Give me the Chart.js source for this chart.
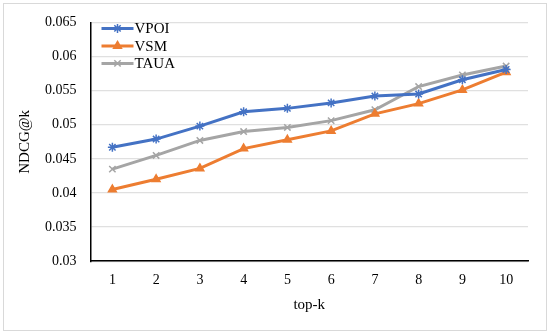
<!DOCTYPE html>
<html>
<head>
<meta charset="utf-8">
<script src="https://cdn.jsdelivr.net/npm/chart.js@4.4.1/dist/chart.umd.min.js"></script>
<style>
  html, body { margin: 0; padding: 0; background: #fff; }
  #wrap { width: 550px; height: 334px; }
</style>
</head>
<body>
<div id="wrap"><canvas id="ndcgChart"></canvas></div>
<script>
// dados
const topK = ['1', '2', '3', '4', '5', '6', '7', '8', '9', '10'];
const vpoi = [0.0467, 0.0479, 0.0498, 0.0519, 0.0524, 0.0532, 0.0542, 0.0545, 0.0566, 0.0581];
const vsm  = [0.0405, 0.0420, 0.0436, 0.0465, 0.0478, 0.0491, 0.0516, 0.0531, 0.0551, 0.0577];
const taua = [0.0435, 0.0455, 0.0477, 0.0490, 0.0496, 0.0506, 0.0522, 0.0556, 0.0573, 0.0586];

const serif = "'Liberation Serif', 'DejaVu Serif', serif";

function makeSeries(label, data, color, style) {
  return {
    label: label,
    data: data,
    borderColor: color,
    backgroundColor: color,
    borderWidth: 3,
    pointStyle: style,
    pointRadius: 4.5,
    pointBorderWidth: 1.5,
    tension: 0
  };
}

// moldura cinza em volta do gráfico
const frame = {
  id: 'frame',
  beforeDraw(chart) {
    const c = chart.ctx;
    c.save();
    c.strokeStyle = '#d9d9d9';
    c.lineWidth = 1;
    c.strokeRect(3.5, 3.5, chart.width - 7, chart.height - 7);
    c.restore();
  }
};

// legenda com linha + marcador, como no Excel
const lineLegend = {
  id: 'lineLegend',
  afterDraw(chart) {
    const c = chart.ctx;
    const area = chart.chartArea;
    c.save();
    c.font = '15px ' + serif;
    c.textBaseline = 'middle';
    chart.data.datasets.forEach((ds, i) => {
      const y = area.top + 6 + i * 17.5;
      const x0 = area.left + 11;
      c.strokeStyle = ds.borderColor;
      c.lineWidth = 3;
      c.beginPath();
      c.moveTo(x0, y);
      c.lineTo(x0 + 32, y);
      c.stroke();
      c.lineWidth = 1.5;
      c.fillStyle = ds.backgroundColor;
      Chart.helpers.drawPoint(c, {
        pointStyle: ds.pointStyle, radius: 4.5, rotation: 0, borderWidth: 1.5
      }, x0 + 16, y);
      c.fillStyle = '#000';
      c.fillText(ds.label, x0 + 33, y + 1);
    });
    c.restore();
  }
};

const ctx = document.getElementById('ndcgChart').getContext('2d');
const ndcgChart = new Chart(ctx, {
  type: 'line',
  data: {
    labels: topK,
    datasets: [
      makeSeries('VPOI', vpoi, '#4472C4', 'star'),
      makeSeries('VSM', vsm, '#ED7D31', 'triangle'),
      makeSeries('TAUA', taua, '#A5A5A5', 'crossRot')
    ]
  },
  options: {
    responsive: true,
    maintainAspectRatio: false,
    animation: false,
    layout: { padding: { left: 12, right: 22, top: 8, bottom: 16 } },
    plugins: {
      legend: { display: false },
      tooltip: { enabled: false }
    },
    scales: {
      x: {
        offset: true,
        grid: { display: false, drawTicks: false },
        border: { color: '#000', width: 1.5 },
        ticks: { color: '#000', font: { family: serif, size: 14 }, padding: 11 },
        title: { display: true, text: 'top-k', color: '#000', font: { family: serif, size: 15 }, padding: { top: -4 } }
      },
      y: {
        min: 0.03,
        max: 0.065,
        grid: { color: '#e0e0e0', lineWidth: 1.2, drawTicks: false },
        border: { color: '#000', width: 1.5 },
        ticks: {
          stepSize: 0.005,
          color: '#000',
          font: { family: serif, size: 14 },
          padding: 14,
          callback: v => String(parseFloat(v.toFixed(3)))
        },
        title: { display: true, text: 'NDCG@k', color: '#000', font: { family: serif, size: 15 }, padding: { bottom: -3 } }
      }
    }
  },
  plugins: [frame, lineLegend]
});
</script>
</body>
</html>
